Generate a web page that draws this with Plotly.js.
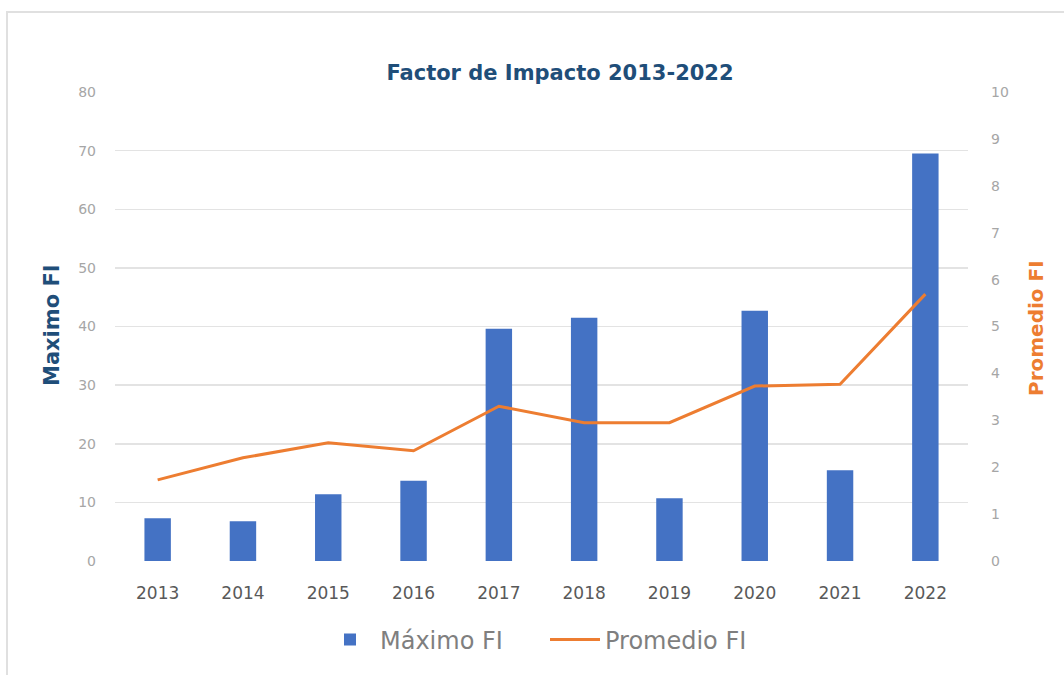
<!DOCTYPE html>
<html>
<head>
<meta charset="utf-8">
<script src="https://cdn.plot.ly/plotly-3.0.1.min.js"></script>
<style>html,body{margin:0;padding:0;background:#fff;}#chart{width:1064px;height:675px;}</style>
</head>
<body>
<div id="chart"></div>
<script>
const years = ['2013','2014','2015','2016','2017','2018','2019','2020','2021','2022'];
const maximoFI = [7.3, 6.8, 11.4, 13.7, 39.6, 41.5, 10.7, 42.7, 15.5, 69.5];
const promedioFI = [1.73, 2.2, 2.52, 2.35, 3.3, 2.95, 2.95, 3.73, 3.77, 5.69];
const leftTicks = [0,10,20,30,40,50,60,70,80];
const rightTicks = [0,1,2,3,4,5,6,7,8,9,10];

const FONT = 'DejaVu Sans, sans-serif';

const traces = [
  {type:'bar', name:'Máximo FI', x:years, y:maximoFI, marker:{color:'#4472C4'}, yaxis:'y'},
  {type:'scatter', mode:'lines', name:'Promedio FI', x:years, y:promedioFI,
   line:{color:'#ED7D31', width:3}, yaxis:'y2'}
];

const layout = {
  width:1064, height:675,
  margin:{l:115, r:96, t:92, b:114},
  paper_bgcolor:'#fff', plot_bgcolor:'#fff',
  bargap:0.69,
  showlegend:true,
  title:{text:'<b>Factor de Impacto 2013-2022</b>', font:{family:FONT, size:21, color:'#1F4E79'},
         x:560/1064, xanchor:'center', y:1-73/675, yanchor:'middle', yref:'container'},
  xaxis:{type:'category', tickfont:{family:FONT, size:17, color:'#595959'}, showgrid:false,
         showline:false, ticks:'', zeroline:false, ticklabelstandoff:20},
  yaxis:{range:[0,80], tickvals:leftTicks, tickfont:{family:FONT, size:14, color:'#A6A6A6'},
         gridcolor:'#E3E3E3', gridwidth:1.5, zeroline:false, showline:false, ticks:'', ticklabelstandoff:18},
  yaxis2:{range:[0,10], tickvals:rightTicks, overlaying:'y', side:'right', showgrid:false,
          tickfont:{family:FONT, size:14, color:'#A6A6A6'}, zeroline:false, showline:false, ticks:'', ticklabelstandoff:22},
  legend:{orientation:'h', xref:'container', yref:'container', x:545/1064, xanchor:'center', y:1-640/675, yanchor:'middle',
          font:{family:FONT, size:24, color:'#7F7F7F'}, itemwidth:50, entrywidth:160, entrywidthmode:'pixels'},
  annotations:[
    {text:'<b>Maximo FI</b>', xref:'paper', yref:'paper', x:(52-115)/853, y:(561-325)/469, showarrow:false,
     textangle:-90, font:{family:FONT, size:21, color:'#1F4E79'}, xanchor:'center', yanchor:'middle'},
    {text:'<b>Promedio FI</b>', xref:'paper', yref:'paper', x:(1036-115)/853, y:(561-328)/469, showarrow:false,
     textangle:-90, font:{family:FONT, size:20, color:'#ED7D31'}, xanchor:'center', yanchor:'middle'}
  ],
  shapes:[
    {type:'rect', xref:'paper', yref:'paper', x0:(7-115)/853, x1:2, y0:-2, y1:(561-12)/469,
     line:{color:'#E0E0E0', width:2}, layer:'below'}
  ]
};

Plotly.newPlot('chart', traces, layout, {displayModeBar:false, staticPlot:true});
</script>
</body>
</html>
